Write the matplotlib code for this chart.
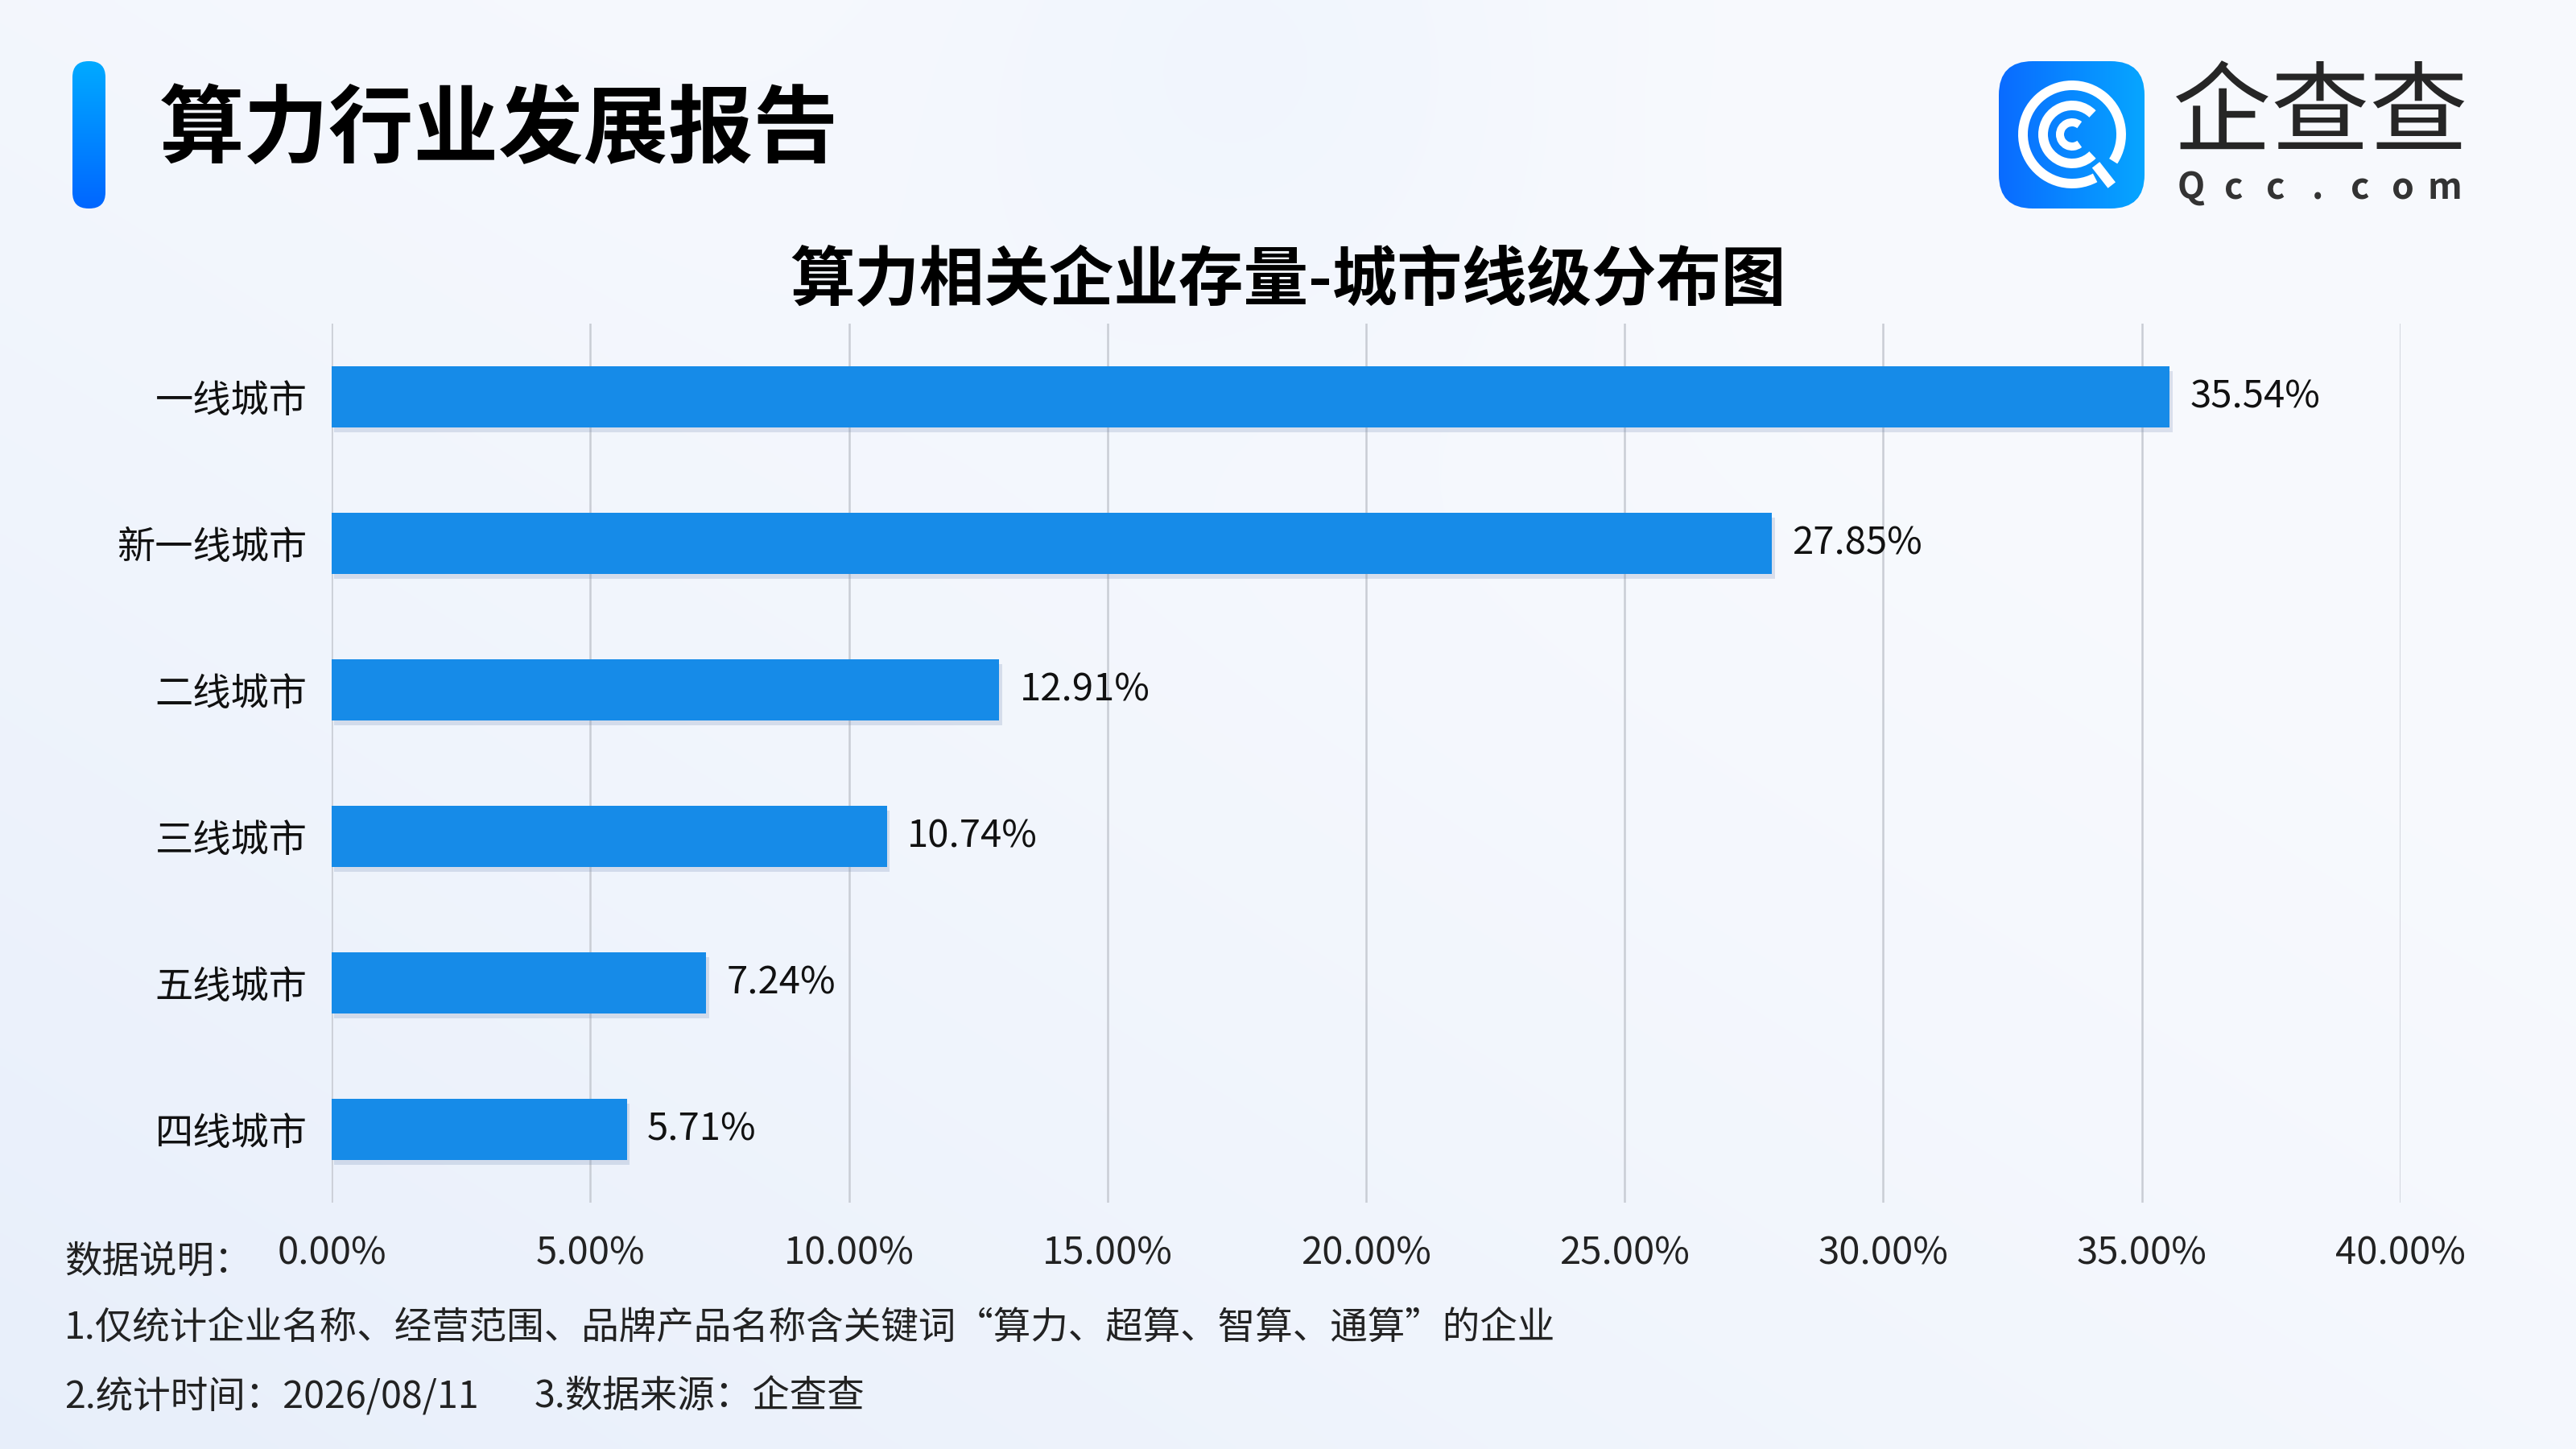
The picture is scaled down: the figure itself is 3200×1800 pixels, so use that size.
import numpy as np
import matplotlib
matplotlib.use('Agg')
import matplotlib.pyplot as plt
from matplotlib.patches import FancyBboxPatch, Arc
from matplotlib.colors import LinearSegmentedColormap
import matplotlib.patheffects as pe
from matplotlib.lines import Line2D

plt.rcParams['font.family'] = ['Noto Sans CJK SC', 'DejaVu Sans']

# ---------------- data ----------------
categories = ['一线城市', '新一线城市', '二线城市', '三线城市', '五线城市', '四线城市']
values = [35.54, 27.85, 12.91, 10.74, 7.24, 5.71]
xticks = [0, 5, 10, 15, 20, 25, 30, 35, 40]
xtick_labels = ['0.00%', '5.00%', '10.00%', '15.00%', '20.00%', '25.00%',
                '30.00%', '35.00%', '40.00%']

report_title = '算力行业发展报告'
chart_title = '算力相关企业存量-城市线级分布图'
notes = ['数据说明：',
         '1.仅统计企业名称、经营范围、品牌产品名称含关键词“算力、超算、智算、通算”的企业',
         '2.统计时间：2026/08/11',
         '3.数据来源：企查查']
logo_cn = '企查查'
logo_en = 'Qcc.com'

# ---------------- figure ----------------
W, H = 3200, 1800
fig = plt.figure(figsize=(16, 9), dpi=200)

bg = fig.add_axes([0, 0, 1, 1])
bg.axis('off')

# background gradient
yy, xx = np.mgrid[0:H:6, 0:W:6].astype(float)
u = xx / W
v = yy / H
c_light = np.array([0xF8, 0xFA, 0xFE]) / 255.0
c_blue = np.array([0xE5, 0xED, 0xFA]) / 255.0
t = np.clip(0.55 * v + 0.6 * (1 - u) - 0.25, 0, 1) ** 1.3
img = c_light * (1 - t[..., None]) + c_blue * t[..., None]
d = np.sqrt((xx - 1560) ** 2 + (yy - 40) ** 2)
a = 0.35 * np.exp(-(d / 420.0) ** 2)
blob = np.array([0xE6, 0xEF, 0xFC]) / 255.0
img = img * (1 - a[..., None]) + blob * a[..., None]
bg.imshow(img, extent=[0, W, H, 0], aspect='auto', zorder=0, interpolation='bilinear')

# title accent bar
bar_patch = FancyBboxPatch((90, 76), 41, 183, boxstyle='round,pad=0,rounding_size=20',
                           facecolor='none', edgecolor='none', transform=bg.transData)
bg.add_patch(bar_patch)
cmap_v = LinearSegmentedColormap.from_list('v', ['#00AAFF', '#0066FF'])
gv = np.linspace(0, 1, 256).reshape(-1, 1)
im1 = bg.imshow(gv, extent=[90, 131, 259, 76], cmap=cmap_v, aspect='auto', zorder=2)
im1.set_clip_path(bar_patch)

bg.text(198, 163, report_title, fontsize=38, fontweight='heavy', color='#000000',
        ha='left', va='center', zorder=3)

# logo icon
icon_patch = FancyBboxPatch((2483, 76), 181, 183, boxstyle='round,pad=0,rounding_size=42',
                            facecolor='none', edgecolor='none', transform=bg.transData)
bg.add_patch(icon_patch)
cmap_h = LinearSegmentedColormap.from_list('h', ['#0A6BFF', '#06A6FF'])
gh = np.linspace(0, 1, 256).reshape(1, -1)
im2 = bg.imshow(gh, extent=[2483, 2664, 259, 76], cmap=cmap_h, aspect='auto', zorder=2)
im2.set_clip_path(icon_patch)

bg.text(2882, 145, logo_cn, fontsize=44, fontweight='medium', color='#262626',
        ha='center', va='center', zorder=3)
for i, ch in enumerate(logo_en):
    bg.text(2722 + i * 52.5, 234, ch, fontsize=16, fontweight='bold', color='#333333',
            ha='center', va='center', zorder=3)

bg.text(1600, 350, chart_title, fontsize=29, fontweight='bold', color='#000000',
        ha='center', va='center', zorder=3)

fs_note = 16.75
bg.text(80, 1567, notes[0], fontsize=fs_note, color='#222222', ha='left', va='center')
bg.text(80, 1651, notes[1], fontsize=fs_note, color='#222222', ha='left', va='center')
bg.text(80, 1735, notes[2], fontsize=fs_note, color='#222222', ha='left', va='center')
bg.text(664, 1735, notes[3], fontsize=fs_note, color='#222222', ha='left', va='center')

bg.set_xlim(0, W)
bg.set_ylim(H, 0)

# logo rings in own axes
lax = fig.add_axes([2483 / W, 1 - 259 / H, 181 / W, 183 / H])
lax.set_xlim(0, 181)
lax.set_ylim(0, 183)
lax.axis('off')
lax.patch.set_alpha(0)
cx, cy = 91, 92
lw = 4.3
lax.add_patch(Arc((cx, cy), 122, 122, theta1=-33, theta2=298, color='white', lw=lw))
lax.add_patch(Arc((cx, cy), 72, 72, theta1=45, theta2=315, color='white', lw=lw))
lax.add_patch(Arc((cx, cy), 30, 30, theta1=52, theta2=308, color='white', lw=3.6))
ang = np.deg2rad(-52)
lax.add_line(Line2D([cx + 48 * np.cos(ang), cx + 80 * np.cos(ang)],
                    [cy + 48 * np.sin(ang), cy + 80 * np.sin(ang)],
                    color='white', lw=lw, solid_capstyle='butt'))

# ---------------- chart ----------------
ax = fig.add_axes([0.1288, 0.170, 0.803, 0.6067])
ax.patch.set_alpha(0)
ypos = np.arange(len(categories))
bars = ax.barh(ypos, values, height=0.42, color='#168BE8', zorder=3)
for b in bars:
    b.set_path_effects([pe.SimplePatchShadow(offset=(1.2, -2.2), shadow_rgbFace='#6f86b0',
                                             alpha=0.22), pe.Normal()])
for yi, val in zip(ypos, values):
    ax.annotate(f'{val:.2f}%', xy=(val, yi), xytext=(9, 0), textcoords='offset points',
                ha='left', va='center', fontsize=17, color='#111111', zorder=4)

ax.set_xlim(0, 40)
ax.set_ylim(len(categories) - 0.5, -0.5)
ax.set_xticks(xticks)
ax.set_xticklabels(xtick_labels, fontsize=17, color='#222222')
ax.set_yticks(ypos)
ax.set_yticklabels(categories, fontsize=17, color='#111111')
ax.tick_params(axis='x', length=0, pad=14)
ax.tick_params(axis='y', length=0, pad=11)
ax.xaxis.grid(True, color='#C9CDD5', lw=0.9, zorder=1)
ax.set_axisbelow(True)
for s in ax.spines.values():
    s.set_visible(False)

fig.savefig('out.png', dpi=200)
